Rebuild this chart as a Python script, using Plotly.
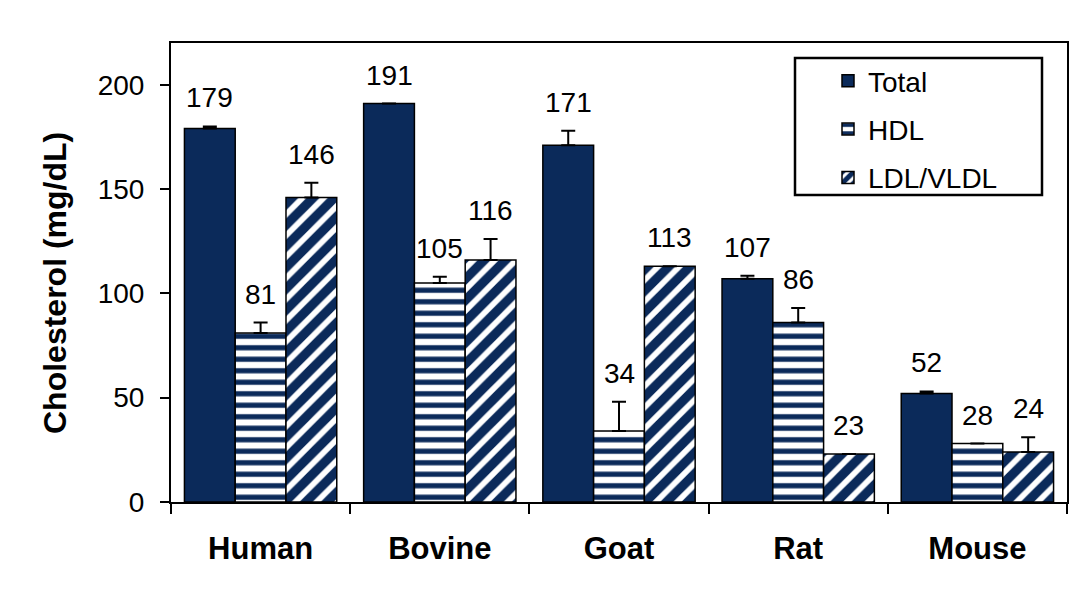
import plotly.graph_objects as go

categories = ["Human", "Bovine", "Goat", "Rat", "Mouse"]
total = [179, 191, 171, 107, 52]
hdl = [81, 105, 34, 86, 28]
ldl = [146, 116, 113, 23, 24]
total_err = [1, 0, 7, 1.5, 1]
hdl_err = [5, 3, 14, 7, 0]
ldl_err = [7, 10, 0, 0, 7]
y_ticks = [0, 50, 100, 150, 200]

NAVY = "#0b2a5a"
FONT = "Liberation Sans, Arial, sans-serif"
xs = list(range(len(categories)))
bw = 0.85 / 3

fig = go.Figure()
series = [
    ("Total", total, total_err, dict(color=NAVY)),
    ("HDL", hdl, hdl_err, dict(color="white", pattern=dict(shape="-", fgcolor=NAVY, bgcolor="white", fgopacity=1,
                                                            size=11.5, solidity=0.45))),
    ("LDL/VLDL", ldl, ldl_err, dict(color="white", pattern=dict(shape="/", fgcolor=NAVY, bgcolor="white", fgopacity=1,
                                                                 size=15, solidity=0.62))),
]
for k, (name, vals, errs, mk) in enumerate(series):
    mk = dict(mk)
    mk["line"] = dict(color="black", width=1.5)
    fig.add_trace(go.Bar(
        name=name, x=xs, y=vals, marker=mk, legendgroup=name,
        error_y=dict(type="data", array=errs, arrayminus=[0] * len(errs), symmetric=False,
                     color="black", thickness=2, width=7),
    ))
    for i, (v, e) in enumerate(zip(vals, errs)):
        fig.add_annotation(x=i + (k - 1) * bw, y=v + e, xref="x", yref="y", text=str(v),
                           showarrow=False, yanchor="bottom", yshift=11,
                           font=dict(family=FONT, size=28, color="black"))

# y-axis title
fig.add_annotation(text="<b>Cholesterol (mg/dL)</b>", xref="paper", yref="paper",
                   x=(55 - 171) / 896, y=(502 - 283) / 459, xanchor="center", yanchor="middle",
                   textangle=-90, showarrow=False, font=dict(family=FONT, size=32, color="black"))

# legend frame
fig.add_shape(type="rect", xref="paper", yref="paper",
              x0=(795 - 171) / 896, x1=(1042 - 171) / 896, y0=(502 - 195) / 459, y1=(502 - 58) / 459,
              line=dict(color="black", width=2.5), fillcolor="white", layer="below")

fig.update_layout(
    width=1086, height=595,
    margin=dict(l=171, r=19, t=43, b=93),
    paper_bgcolor="white", plot_bgcolor="rgba(0,0,0,0)",
    barmode="group", bargap=0.15, bargroupgap=0,
    font=dict(family=FONT, size=28, color="black"),
    legend=dict(x=(828 - 171) / 896, y=(502 - 56) / 459, xanchor="left", yanchor="top",
                bgcolor="rgba(0,0,0,0)", borderwidth=0, traceorder="grouped", tracegroupgap=9,
                font=dict(family=FONT, size=28, color="black")),
    xaxis=dict(range=[-0.5, 4.5], tickvals=xs, ticktext=["<b>%s</b>" % c for c in categories],
               ticks="", showline=True, linecolor="black", linewidth=2, mirror=True,
               showgrid=False, zeroline=False, ticklabelstandoff=18,
               tickfont=dict(family=FONT, size=31, color="black"),
               minor=dict(tickvals=[i - 0.5 for i in range(len(categories) + 1)], ticks="outside",
                          ticklen=10, tickwidth=2, tickcolor="black", showgrid=False)),
    yaxis=dict(range=[0, 220], tickvals=y_ticks, ticks="outside", ticklen=9, tickwidth=2,
               tickcolor="black", showline=True, linecolor="black", linewidth=2, mirror=True,
               showgrid=False, zeroline=False, ticklabelstandoff=10,
               tickfont=dict(family=FONT, size=28, color="black")),
)

fig.write_html("out.html")
